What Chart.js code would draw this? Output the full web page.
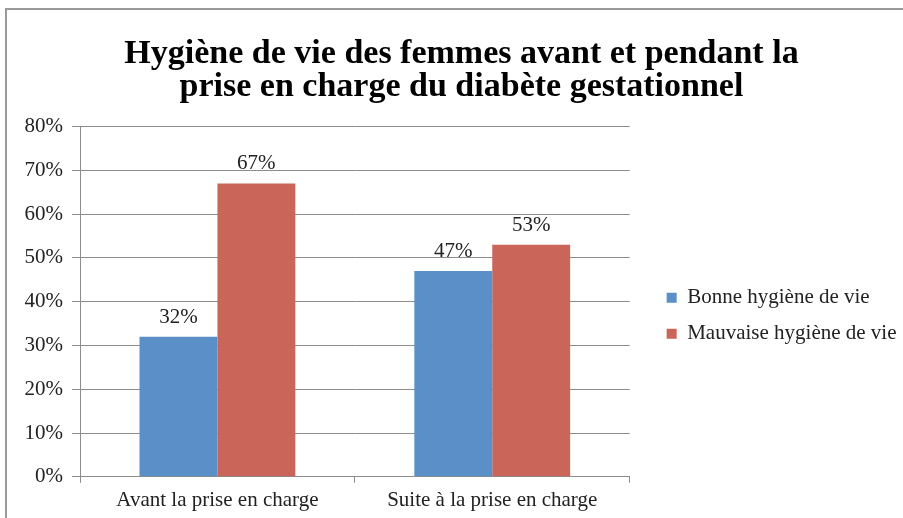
<!DOCTYPE html>
<html>
<head>
<meta charset="utf-8">
<script src="https://cdn.jsdelivr.net/npm/chart.js@4/dist/chart.umd.min.js"></script>
<style>
  html, body { margin: 0; padding: 0; background: #fff; overflow: hidden; }
  #frame {
    position: absolute; left: 5px; top: 8px; width: 960px; height: 560px;
    border-left: 2px solid #9a9a9a; border-top: 2px solid #9a9a9a;
  }
  #wrap { position: absolute; left: 6px; top: 10px; width: 911px; height: 508px; }
</style>
</head>
<body>
<div id="frame"></div>
<div id="wrap"><canvas id="hygieneChart"></canvas></div>
<script>
// Chart data
const categories = ['Avant la prise en charge', 'Suite à la prise en charge'];
const seriesNames = ['Bonne hygiène de vie', 'Mauvaise hygiène de vie'];
const bonneHygiene = [32, 47];
const mauvaiseHygiene = [67, 53];
const yTicks = [0, 10, 20, 30, 40, 50, 60, 70, 80];

const serif = '"Liberation Serif", "Times New Roman", serif';
const textColor = '#222';
const gridColor = '#8c8c8c';

// Percent labels above each bar
const valueLabels = {
    id: 'valueLabels',
    afterDatasetsDraw(chart) {
        const ctx = chart.ctx;
        ctx.save();
        ctx.font = '21px ' + serif;
        ctx.fillStyle = textColor;
        ctx.textAlign = 'center';
        ctx.textBaseline = 'alphabetic';
        chart.data.datasets.forEach((ds, i) => {
            chart.getDatasetMeta(i).data.forEach((bar, j) => {
                ctx.fillText(Math.round(ds.data[j]) + '%', bar.x, bar.y - 14);
            });
        });
        ctx.restore();
    }
};

new Chart(document.getElementById('hygieneChart'), {
    type: 'bar',
    data: {
        labels: categories,
        datasets: [{
            label: seriesNames[0],
            data: bonneHygiene,
            backgroundColor: '#5b8fc7',
            borderWidth: 0
        }, {
            label: seriesNames[1],
            data: mauvaiseHygiene,
            backgroundColor: '#ca6559',
            borderWidth: 0
        }]
    },
    options: {
        responsive: true,
        maintainAspectRatio: false,
        animation: false,
        categoryPercentage: 0.567,
        barPercentage: 1,
        layout: {
            padding: { left: 10.5, right: 10.5, top: 0, bottom: 0 }
        },
        plugins: {
            title: {
                display: true,
                text: ['Hygiène de vie des femmes avant et pendant la',
                       'prise en charge du diabète gestationnel'],
                color: '#000',
                font: { family: serif, size: 34, weight: 'bold', lineHeight: 0.97 },
                padding: { top: 28, bottom: 22.5 }
            },
            legend: {
                position: 'right',
                fullSize: false,
                maxWidth: 320,
                // empty title: pushes the centred items down a bit
                title: { display: true, text: '', padding: 0, font: { size: 28, lineHeight: 1 } },
                labels: {
                    color: textColor,
                    font: { family: serif, size: 21 },
                    boxWidth: 10,
                    boxHeight: 10,
                    padding: 15
                }
            },
            tooltip: { enabled: false }
        },
        scales: {
            x: {
                grid: {
                    offset: true,
                    drawOnChartArea: false,
                    color: gridColor,
                    tickLength: 6
                },
                border: { color: gridColor },
                ticks: {
                    color: textColor,
                    font: { family: serif, size: 21 },
                    padding: 5,
                    maxRotation: 0
                }
            },
            y: {
                min: 0,
                max: 80,
                afterBuildTicks: scale => {
                    scale.ticks = yTicks.map(v => ({ value: v }));
                },
                afterFit: scale => { scale.width = 63.5; },
                grid: { color: gridColor, tickLength: 8 },
                border: { color: gridColor },
                ticks: {
                    color: textColor,
                    font: { family: serif, size: 21 },
                    padding: 9,
                    callback: v => v + '%'
                }
            },
            // empty axis only used as a gap between plot and legend
            gap: {
                position: 'right',
                display: true,
                grid: { display: false },
                border: { display: false },
                ticks: { display: false },
                afterFit: scale => { scale.width = 22; }
            }
        }
    },
    plugins: [valueLabels]
});
</script>
</body>
</html>
